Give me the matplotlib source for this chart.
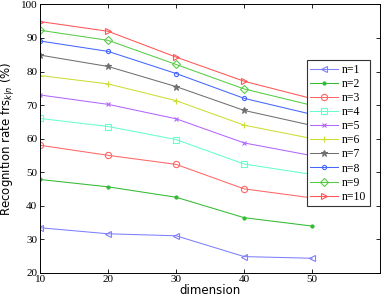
import numpy as np
import matplotlib
matplotlib.use('Agg')
import matplotlib.pyplot as plt

# ---------- 数据 ----------
dimension = [10, 20, 30, 40, 50]
rate_n1 = [33.4, 31.6, 31.0, 24.8, 24.3]
rate_n2 = [47.8, 45.6, 42.5, 36.4, 33.9]
rate_n3 = [58.0, 55.0, 52.3, 45.0, 42.3]
rate_n4 = [66.0, 63.6, 59.7, 52.4, 49.3]
rate_n5 = [73.0, 70.2, 65.9, 58.7, 54.9]
rate_n6 = [78.8, 76.3, 71.3, 64.0, 60.0]
rate_n7 = [84.9, 81.5, 75.5, 68.4, 63.9]
rate_n8 = [89.1, 86.0, 79.4, 72.0, 67.2]
rate_n9 = [92.3, 89.3, 82.1, 74.8, 69.9]
rate_n10 = [94.9, 92.0, 84.3, 77.1, 71.9]
labels = ['n=%d' % i for i in range(1, 11)]

series = [rate_n1, rate_n2, rate_n3, rate_n4, rate_n5,
          rate_n6, rate_n7, rate_n8, rate_n9, rate_n10]
colors = ['#7f7fff', '#33bb33', '#ff6666', '#66ffcc', '#b366ff',
          '#ccdd33', '#707070', '#4466ff', '#55cc44', '#ff5555']
markers = ['<', '.', 'o', 's', 'x', '+', '*', 'o', 'D', '>']
msizes = [4.5, 4.5, 4.5, 4, 3.5, 4.5, 4.5, 3, 4, 4.5]

# ---------- 绘图 ----------
fig = plt.figure(figsize=(3.82, 2.98), dpi=100)
ax = fig.add_axes([0.105, 0.085, 0.89, 0.9])

for y, c, m, ms, lab in zip(series, colors, markers, msizes, labels):
    filled = m in ('.', 'x', '+', '*')
    ax.plot(dimension, y, color=c, marker=m, markersize=ms, linewidth=0.75,
            markerfacecolor=c if filled else 'none', markeredgecolor=c,
            markeredgewidth=0.8, label=lab)

ax.set_xlim(10, 60)
ax.set_ylim(20, 100)
ax.set_xticks(dimension)
ax.set_yticks(np.arange(20, 101, 10))
ax.tick_params(direction='in', top=True, right=True, length=3, width=0.6,
               labelsize=8, pad=2)
for lbl in ax.get_xticklabels() + ax.get_yticklabels():
    lbl.set_family('Liberation Serif')
for s in ax.spines.values():
    s.set_linewidth(0.7)

ax.set_xlabel('dimension', fontsize=8.5, labelpad=0)
ax.set_ylabel(r'Recognition rate frs$_{k|n}$ (%)', fontsize=8.5, labelpad=3)

leg = ax.legend(loc='center right', bbox_to_anchor=(0.97, 0.52),
                prop={'family': 'Liberation Serif', 'size': 8.5},
                fancybox=False, edgecolor='#333333', framealpha=1,
                handlelength=2.4, handletextpad=0.3, borderpad=0.3,
                labelspacing=0.18, borderaxespad=0.0)
leg.get_frame().set_linewidth(0.8)

plt.savefig('out.png', dpi=100)
plt.close()
